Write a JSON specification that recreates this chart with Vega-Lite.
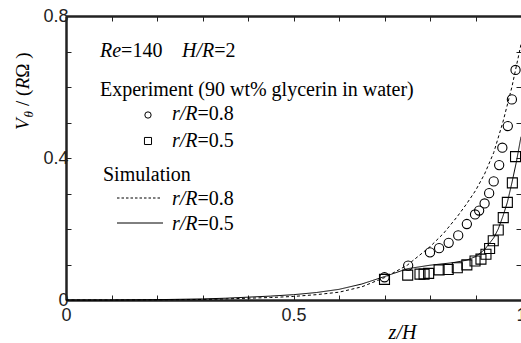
{
  "$schema": "https://vega.github.io/schema/vega-lite/v6.json",
  "width": 455,
  "height": 284,
  "autosize": {"type": "none"},
  "padding": {"left": 66, "top": 16, "right": 0, "bottom": 43},
  "background": "white",
  "config": {
    "view": {"stroke": null},
    "axis": {"grid": false},
    "text": {"font": "Liberation Serif", "fontSize": 20, "align": "left", "baseline": "alphabetic", "color": "black"}
  },
  "datasets": {
    "sim": [
      {"series": "r/R=0.8", "x": 0, "y": 0}, {"series": "r/R=0.8", "x": 0.1, "y": 0}, {"series": "r/R=0.8", "x": 0.2, "y": 0.0005},
      {"series": "r/R=0.8", "x": 0.3, "y": 0.0015}, {"series": "r/R=0.8", "x": 0.35, "y": 0.003}, {"series": "r/R=0.8", "x": 0.4, "y": 0.005},
      {"series": "r/R=0.8", "x": 0.45, "y": 0.007}, {"series": "r/R=0.8", "x": 0.5, "y": 0.010}, {"series": "r/R=0.8", "x": 0.55, "y": 0.015},
      {"series": "r/R=0.8", "x": 0.6, "y": 0.022}, {"series": "r/R=0.8", "x": 0.65, "y": 0.037}, {"series": "r/R=0.8", "x": 0.7, "y": 0.063},
      {"series": "r/R=0.8", "x": 0.75, "y": 0.098}, {"series": "r/R=0.8", "x": 0.8, "y": 0.150}, {"series": "r/R=0.8", "x": 0.83, "y": 0.188},
      {"series": "r/R=0.8", "x": 0.86, "y": 0.235}, {"series": "r/R=0.8", "x": 0.88, "y": 0.27}, {"series": "r/R=0.8", "x": 0.9, "y": 0.308},
      {"series": "r/R=0.8", "x": 0.92, "y": 0.355}, {"series": "r/R=0.8", "x": 0.94, "y": 0.415}, {"series": "r/R=0.8", "x": 0.96, "y": 0.50},
      {"series": "r/R=0.8", "x": 0.98, "y": 0.60}, {"series": "r/R=0.8", "x": 1.0, "y": 0.72},
      {"series": "r/R=0.5", "x": 0, "y": 0}, {"series": "r/R=0.5", "x": 0.1, "y": 0}, {"series": "r/R=0.5", "x": 0.2, "y": 0.001},
      {"series": "r/R=0.5", "x": 0.3, "y": 0.003}, {"series": "r/R=0.5", "x": 0.35, "y": 0.005}, {"series": "r/R=0.5", "x": 0.4, "y": 0.008},
      {"series": "r/R=0.5", "x": 0.45, "y": 0.011}, {"series": "r/R=0.5", "x": 0.5, "y": 0.015}, {"series": "r/R=0.5", "x": 0.55, "y": 0.021},
      {"series": "r/R=0.5", "x": 0.6, "y": 0.030}, {"series": "r/R=0.5", "x": 0.65, "y": 0.045}, {"series": "r/R=0.5", "x": 0.7, "y": 0.066},
      {"series": "r/R=0.5", "x": 0.75, "y": 0.088}, {"series": "r/R=0.5", "x": 0.8, "y": 0.098}, {"series": "r/R=0.5", "x": 0.85, "y": 0.105},
      {"series": "r/R=0.5", "x": 0.88, "y": 0.112}, {"series": "r/R=0.5", "x": 0.9, "y": 0.122}, {"series": "r/R=0.5", "x": 0.92, "y": 0.142},
      {"series": "r/R=0.5", "x": 0.94, "y": 0.175}, {"series": "r/R=0.5", "x": 0.95, "y": 0.200}, {"series": "r/R=0.5", "x": 0.96, "y": 0.235},
      {"series": "r/R=0.5", "x": 0.97, "y": 0.275}, {"series": "r/R=0.5", "x": 0.98, "y": 0.33}, {"series": "r/R=0.5", "x": 0.99, "y": 0.39},
      {"series": "r/R=0.5", "x": 1.0, "y": 0.46}
    ],
    "exp": [
      {"series": "r/R=0.8", "x": 0.700, "y": 0.064}, {"series": "r/R=0.8", "x": 0.752, "y": 0.097}, {"series": "r/R=0.8", "x": 0.800, "y": 0.134},
      {"series": "r/R=0.8", "x": 0.820, "y": 0.146}, {"series": "r/R=0.8", "x": 0.841, "y": 0.161}, {"series": "r/R=0.8", "x": 0.862, "y": 0.182},
      {"series": "r/R=0.8", "x": 0.881, "y": 0.214}, {"series": "r/R=0.8", "x": 0.899, "y": 0.241}, {"series": "r/R=0.8", "x": 0.908, "y": 0.252},
      {"series": "r/R=0.8", "x": 0.920, "y": 0.272}, {"series": "r/R=0.8", "x": 0.930, "y": 0.301}, {"series": "r/R=0.8", "x": 0.940, "y": 0.334},
      {"series": "r/R=0.8", "x": 0.952, "y": 0.380}, {"series": "r/R=0.8", "x": 0.959, "y": 0.429}, {"series": "r/R=0.8", "x": 0.971, "y": 0.490},
      {"series": "r/R=0.8", "x": 0.980, "y": 0.565}, {"series": "r/R=0.8", "x": 0.988, "y": 0.648},
      {"series": "r/R=0.5", "x": 0.700, "y": 0.058}, {"series": "r/R=0.5", "x": 0.751, "y": 0.070}, {"series": "r/R=0.5", "x": 0.778, "y": 0.073},
      {"series": "r/R=0.5", "x": 0.787, "y": 0.073}, {"series": "r/R=0.5", "x": 0.797, "y": 0.075}, {"series": "r/R=0.5", "x": 0.820, "y": 0.085},
      {"series": "r/R=0.5", "x": 0.840, "y": 0.086}, {"series": "r/R=0.5", "x": 0.860, "y": 0.091}, {"series": "r/R=0.5", "x": 0.881, "y": 0.099},
      {"series": "r/R=0.5", "x": 0.899, "y": 0.110}, {"series": "r/R=0.5", "x": 0.912, "y": 0.115}, {"series": "r/R=0.5", "x": 0.923, "y": 0.129},
      {"series": "r/R=0.5", "x": 0.931, "y": 0.145}, {"series": "r/R=0.5", "x": 0.939, "y": 0.167}, {"series": "r/R=0.5", "x": 0.950, "y": 0.197},
      {"series": "r/R=0.5", "x": 0.961, "y": 0.232}, {"series": "r/R=0.5", "x": 0.970, "y": 0.275}, {"series": "r/R=0.5", "x": 0.981, "y": 0.330},
      {"series": "r/R=0.5", "x": 0.988, "y": 0.404}
    ]
  },
  "data": {"values": [{}]},
  "resolve": {"axis": {"x": "independent", "y": "independent"}},
  "layer": [
    {
      "data": {"name": "sim"},
      "mark": {"type": "line", "color": "black", "strokeWidth": 1},
      "encoding": {
        "x": {"field": "x", "type": "quantitative", "scale": {"domain": [0, 1], "nice": false, "zero": false},
          "axis": {"orient": "bottom", "values": [0, 0.1, 0.2, 0.3, 0.4, 0.5, 0.6, 0.7, 0.8, 0.9, 1],
            "labelExpr": "datum.value == 0 ? '0' : (abs(datum.value - 0.5) < 1e-6 ? '0.5' : (abs(datum.value - 1) < 1e-6 ? '1' : ''))",
            "tickSize": -5, "tickColor": "#222", "tickWidth": 1, "domainColor": "#222", "domainWidth": 2.5,
            "labelFont": "Liberation Sans", "labelFontSize": 18, "labelColor": "#222", "labelPadding": 11, "labelFlush": false, "labelOverlap": false, "labelBound": false,
            "title": "z/H", "titleFont": "Liberation Serif", "titleFontSize": 20, "titleFontStyle": "italic", "titleFontWeight": "normal", "titleColor": "black",
            "titleX": 336, "titleY": 38, "titleBaseline": "alphabetic", "titleAlign": "center"}},
        "y": {"field": "y", "type": "quantitative", "scale": {"domain": [0, 0.8], "nice": false, "zero": false},
          "axis": {"orient": "left", "values": [0, 0.1, 0.2, 0.3, 0.4, 0.5, 0.6, 0.7, 0.8],
            "labelExpr": "datum.value == 0 ? '0' : (abs(datum.value - 0.4) < 1e-6 ? '0.4' : (abs(datum.value - 0.8) < 1e-6 ? '0.8' : ''))",
            "tickSize": -5, "tickColor": "#222", "tickWidth": 1, "domainColor": "#222", "domainWidth": 2.5,
            "labelFont": "Liberation Sans", "labelFontSize": 18, "labelColor": "#222", "labelPadding": 3, "labelFlush": false, "labelOverlap": false, "labelBound": false,
            "title": null}},
        "strokeDash": {"field": "series", "type": "nominal", "scale": {"domain": ["r/R=0.8", "r/R=0.5"], "range": [[3, 2.5], [1, 0]]}, "legend": null}
      }
    },
    {
      "data": {"name": "exp"},
      "mark": {"type": "point", "filled": false, "color": "black", "strokeWidth": 1.1, "opacity": 1},
      "encoding": {
        "x": {"field": "x", "type": "quantitative", "scale": {"domain": [0, 1], "nice": false, "zero": false},
          "axis": {"orient": "top", "values": [0, 0.1, 0.2, 0.3, 0.4, 0.5, 0.6, 0.7, 0.8, 0.9, 1], "labels": false,
            "tickSize": -5, "tickColor": "#222", "tickWidth": 1, "domainColor": "#222", "domainWidth": 2.5, "title": null}},
        "y": {"field": "y", "type": "quantitative", "scale": {"domain": [0, 0.8], "nice": false, "zero": false},
          "axis": {"orient": "right", "values": [0, 0.1, 0.2, 0.3, 0.4, 0.5, 0.6, 0.7, 0.8], "labels": false,
            "tickSize": -5, "tickColor": "#222", "tickWidth": 1, "domain": false, "title": null}},
        "shape": {"field": "series", "type": "nominal", "scale": {"domain": ["r/R=0.8", "r/R=0.5"], "range": ["circle", "square"]}, "legend": null},
        "size": {"field": "series", "type": "nominal", "scale": {"domain": ["r/R=0.8", "r/R=0.5"], "range": [85, 100]}, "legend": null}
      }
    },
    {"mark": {"type": "text", "fontStyle": "italic"}, "encoding": {"x": {"datum": 0.0747, "type": "quantitative", "axis": null}, "y": {"datum": 0.6845, "type": "quantitative", "axis": null}, "text": {"value": "Re"}}},
    {"mark": {"type": "text"}, "encoding": {"x": {"datum": 0.1211, "type": "quantitative", "axis": null}, "y": {"datum": 0.6845, "type": "quantitative", "axis": null}, "text": {"value": "=140"}}},
    {"mark": {"type": "text", "fontStyle": "italic"}, "encoding": {"x": {"datum": 0.2549, "type": "quantitative", "axis": null}, "y": {"datum": 0.6845, "type": "quantitative", "axis": null}, "text": {"value": "H/R"}}},
    {"mark": {"type": "text"}, "encoding": {"x": {"datum": 0.3257, "type": "quantitative", "axis": null}, "y": {"datum": 0.6845, "type": "quantitative", "axis": null}, "text": {"value": "=2"}}},
    {"mark": {"type": "text"}, "encoding": {"x": {"datum": 0.0747, "type": "quantitative", "axis": null}, "y": {"datum": 0.5746, "type": "quantitative", "axis": null}, "text": {"value": "Experiment (90 wt% glycerin in water)"}}},
    {"mark": {"type": "point", "shape": "circle", "filled": false, "color": "black", "strokeWidth": 1, "size": 40, "opacity": 1}, "encoding": {"x": {"datum": 0.1802, "type": "quantitative", "axis": null}, "y": {"datum": 0.5211, "type": "quantitative", "axis": null}}},
    {"mark": {"type": "text", "fontStyle": "italic"}, "encoding": {"x": {"datum": 0.233, "type": "quantitative", "axis": null}, "y": {"datum": 0.507, "type": "quantitative", "axis": null}, "text": {"value": "r/R"}}},
    {"mark": {"type": "text"}, "encoding": {"x": {"datum": 0.2892, "type": "quantitative", "axis": null}, "y": {"datum": 0.507, "type": "quantitative", "axis": null}, "text": {"value": "=0.8"}}},
    {"mark": {"type": "point", "shape": "square", "filled": false, "color": "black", "strokeWidth": 1, "size": 50, "opacity": 1}, "encoding": {"x": {"datum": 0.1802, "type": "quantitative", "axis": null}, "y": {"datum": 0.4479, "type": "quantitative", "axis": null}}},
    {"mark": {"type": "text", "fontStyle": "italic"}, "encoding": {"x": {"datum": 0.233, "type": "quantitative", "axis": null}, "y": {"datum": 0.431, "type": "quantitative", "axis": null}, "text": {"value": "r/R"}}},
    {"mark": {"type": "text"}, "encoding": {"x": {"datum": 0.2892, "type": "quantitative", "axis": null}, "y": {"datum": 0.431, "type": "quantitative", "axis": null}, "text": {"value": "=0.5"}}},
    {"mark": {"type": "text"}, "encoding": {"x": {"datum": 0.0813, "type": "quantitative", "axis": null}, "y": {"datum": 0.3352, "type": "quantitative", "axis": null}, "text": {"value": "Simulation"}}},
    {"mark": {"type": "rule", "color": "black", "strokeWidth": 1, "strokeDash": [2.5, 2]}, "encoding": {"x": {"datum": 0.1121, "type": "quantitative", "axis": null}, "x2": {"datum": 0.2066}, "y": {"datum": 0.2873, "type": "quantitative", "axis": null}}},
    {"mark": {"type": "text", "fontStyle": "italic"}, "encoding": {"x": {"datum": 0.233, "type": "quantitative", "axis": null}, "y": {"datum": 0.2676, "type": "quantitative", "axis": null}, "text": {"value": "r/R"}}},
    {"mark": {"type": "text"}, "encoding": {"x": {"datum": 0.2892, "type": "quantitative", "axis": null}, "y": {"datum": 0.2676, "type": "quantitative", "axis": null}, "text": {"value": "=0.8"}}},
    {"mark": {"type": "rule", "color": "black", "strokeWidth": 1}, "encoding": {"x": {"datum": 0.1121, "type": "quantitative", "axis": null}, "x2": {"datum": 0.2132}, "y": {"datum": 0.2169, "type": "quantitative", "axis": null}}},
    {"mark": {"type": "text", "fontStyle": "italic"}, "encoding": {"x": {"datum": 0.233, "type": "quantitative", "axis": null}, "y": {"datum": 0.1972, "type": "quantitative", "axis": null}, "text": {"value": "r/R"}}},
    {"mark": {"type": "text"}, "encoding": {"x": {"datum": 0.2892, "type": "quantitative", "axis": null}, "y": {"datum": 0.1972, "type": "quantitative", "axis": null}, "text": {"value": "=0.5"}}},
    {"mark": {"type": "text", "fontStyle": "italic", "angle": 270, "fontSize": 19}, "encoding": {"x": {"datum": -0.0824, "type": "quantitative", "axis": null}, "y": {"datum": 0.4789, "type": "quantitative", "axis": null}, "text": {"value": "V"}}},
    {"mark": {"type": "text", "fontStyle": "italic", "angle": 270, "fontSize": 13}, "encoding": {"x": {"datum": -0.0736, "type": "quantitative", "axis": null}, "y": {"datum": 0.5141, "type": "quantitative", "axis": null}, "text": {"value": "θ"}}},
    {"mark": {"type": "text", "angle": 270, "fontSize": 19}, "encoding": {"x": {"datum": -0.0824, "type": "quantitative", "axis": null}, "y": {"datum": 0.5465, "type": "quantitative", "axis": null}, "text": {"value": "/ ("}}},
    {"mark": {"type": "text", "fontStyle": "italic", "angle": 270, "fontSize": 19}, "encoding": {"x": {"datum": -0.0824, "type": "quantitative", "axis": null}, "y": {"datum": 0.5935, "type": "quantitative", "axis": null}, "text": {"value": "R"}}},
    {"mark": {"type": "text", "angle": 270, "fontSize": 19}, "encoding": {"x": {"datum": -0.0824, "type": "quantitative", "axis": null}, "y": {"datum": 0.6262, "type": "quantitative", "axis": null}, "text": {"value": "Ω )"}}}
  ]
}
